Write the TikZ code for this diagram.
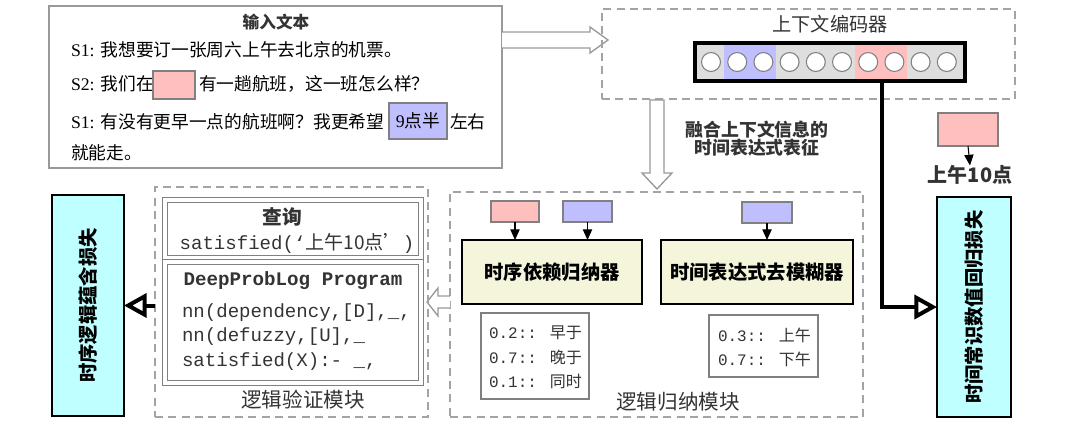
\documentclass[tikz,border=0pt]{standalone}
\usepackage{fontspec}
\setmainfont{Liberation Serif}
\newfontfamily\cjk{Noto Sans CJK SC}
\newfontfamily\mono{Liberation Mono}
\usetikzlibrary{fit,arrows.meta,calc}
\definecolor{pinkc}{HTML}{FFBFBF}
\definecolor{bluec}{HTML}{BFBFFF}
\definecolor{cyanc}{HTML}{BFFFFF}
\definecolor{beigec}{HTML}{F5F5DC}
\definecolor{barc}{HTML}{DEDEDE}
\definecolor{lgray}{HTML}{999999}
\definecolor{dgray}{HTML}{333333}
\newcommand\myfs[1]{\fontsize{#1}{#1}\selectfont}
\begin{document}
\begin{tikzpicture}[x=0.75pt,y=-0.75pt,
  every node/.style={inner sep=0,outer sep=0},
  solidbox/.style={draw=lgray,line width=1pt},
  dashbox/.style={draw=lgray!90,line width=1pt,dash pattern=on 6pt off 4pt},
  pinkbox/.style={draw=gray,fill=pinkc,line width=0.8pt},
  bluebox/.style={draw=gray,fill=bluec,line width=0.8pt},
  cyanbox/.style={draw=black,fill=cyanc,line width=0.8pt},
  beigebox/.style={draw=black,fill=beigec,line width=1pt},
  probbox/.style={draw=gray,line width=0.9pt},
  dblbox/.style={draw=gray,line width=0.8pt,double=white,double distance=2.5pt},
  hollow/.style={draw=lgray,fill=white,line width=1pt,line join=miter},
  smallarr/.style={line width=0.8pt,-{Triangle[length=8pt,width=7pt]}},
  bigarr/.style={line width=3pt,-{Triangle[open,length=17pt,width=18pt]}},
  txt/.style={font=\myfs{13.3}},
  modtitle/.style={font=\cjk\myfs{15.4},text=dgray},
  bluebold/.style={font=\cjk\bfseries\myfs{14.5}},
  monotxt/.style={font=\mono\myfs{14.3},text=dgray},
  probtxt/.style={font=\mono\myfs{12},text=dgray,anchor=west}
]
\useasboundingbox (0,0) rectangle (1080,433);

% ---------- input text ----------
\node[solidbox,fit={(49,6)(502,168)}] (input) {};
\node[font=\cjk\bfseries\myfs{12.5},text=dgray] (inTitle) at (276,22) {输入文本};
\node[txt,anchor=west] (l1) at (71,50) {S1: {\cjk 我想要订一张周六上午去北京的机票。}};
\node[txt,anchor=west] (l2a) at (71,84) {S2: {\cjk 我们在}};
\node[pinkbox,fit={(153,71)(195,99)}] (slot) {};
\node[txt,anchor=west] (l2b) at (199,84) {\cjk 有一趟航班，这一班怎么样？};
\node[txt,anchor=west] (l3a) at (71,122) {S1: {\cjk 有没有更早一点的航班啊？我更希望}};
\node[bluebox,fit={(389,103)(447,139)}] (nine) {};
\node[txt] at (nine.center) {9{\cjk 点半}};
\node[txt,anchor=west] (l3b) at (450,122) {\cjk 左右};
\node[txt,anchor=west] (l4) at (71,153) {\cjk 就能走。};

% hollow arrow input -> encoder
\draw[hollow] (502,32) -- (590,32) -- (590,27) -- (608,40) -- (590,53) -- (590,48) -- (502,48);

% ---------- encoder ----------
\node[dashbox,fit={(602,9)(1015,99)}] (enc) {};
\node[font=\cjk\myfs{14.4},text=dgray] (encTitle) at (830,24) {上下文编码器};
\node[fill=barc,fit={(695,43)(965,81)}] (bar) {};
\fill[bluec] (724,43) rectangle (776,81);
\fill[pinkc] (855,43) rectangle (907,81);
\foreach \i in {0,...,9}
  \draw[draw=gray,fill=white,line width=0.8pt] (711+26.2*\i,62) circle[radius=7.1pt];
\draw[line width=2.8pt] (bar.north west) rectangle (bar.south east);

% fusion arrow + text
\draw[hollow] (650,100) -- (664,100) -- (664,173) -- (672,173) -- (657,189) -- (642,173) -- (650,173) -- cycle;
\node[font=\cjk\bfseries\myfs{13.4},text=dgray,align=center] (fuse) at (757,139) {融合上下文信息的\\时间表达式表征};

% right pink + label
\node[pinkbox,fit={(938,113)(998,146)}] (pinkR) {};
\node[font=\cjk\bfseries\myfs{15},text=dgray] (am10) at (970,175) {上午10点};
\draw[smallarr] (pinkR.south) -- (am10.north);

% right loss
\node[cyanbox,fit={(937,197)(1011,417)}] (lossR) {};
\node[bluebold,rotate=90] at (lossR.center) {时间常识数值回归损失};
\coordinate (tap) at (882,81);
\draw[bigarr,line join=miter] (tap) |- (lossR.west);

% ---------- logic induction module ----------
\node[dashbox,fit={(450,192)(863,417)}] (logic) {};
\node[modtitle] (logicTitle) at (678,402) {逻辑归纳模块};
\node[pinkbox,fit={(491,201)(539,222)}] (p1) {};
\node[bluebox,fit={(563,201)(612,222)}] (b1) {};
\node[bluebox,fit={(742,202)(792,223)}] (b2) {};
\node[beigebox,fit={(462,240)(642,304)}] (dep) {};
\node[bluebold] at (dep.center) {时序依赖归纳器};
\node[beigebox,fit={(661,240)(853,304)}] (defz) {};
\node[bluebold] at (defz.center) {时间表达式去模糊器};
\draw[smallarr] (p1.south) -- (p1.south |- dep.north);
\draw[smallarr] (b1.south) -- (b1.south |- dep.north);
\draw[smallarr] (b2.south) -- (b2.south |- defz.north);
\node[probbox,fit={(481,313)(589,399)}] (pr1) {};
\node[probtxt] at (489,333) {0.2:: {\cjk 早于}};
\node[probtxt] at (489,357) {0.7:: {\cjk 晚于}};
\node[probtxt] at (489,381) {0.1:: {\cjk 同时}};
\node[probbox,fit={(709,315)(818,377)}] (pr2) {};
\node[probtxt] at (718,335) {0.3:: {\cjk 上午}};
\node[probtxt] at (718,359) {0.7:: {\cjk 下午}};

% hollow arrow logic -> verification
\draw[hollow] (450,296) -- (438,296) -- (438,288) -- (427,302) -- (438,316) -- (438,308) -- (450,308);

% ---------- verification module ----------
\node[dashbox,fit={(155,187)(428,417)}] (verif) {};
\node[modtitle] (verifTitle) at (303,400) {逻辑验证模块};
\node[dblbox,fit={(165,200)(421,258)}] (query) {};
\node[font=\cjk\bfseries\myfs{14.8},text=dgray] at (282,217) {查询};
\node[monotxt] at (297,243) {satisfied(‘{\cjk 上午10点’})};
\node[dblbox,fit={(165,262)(421,383)}] (prog) {};
\node[monotxt,font=\mono\bfseries\myfs{14.4}] at (293,281) {DeepProbLog Program};
\node[monotxt,anchor=west] at (182,313) {nn(dependency,[D],\_,};
\node[monotxt,anchor=west] at (182,337) {nn(defuzzy,[U],\_};
\node[monotxt,anchor=west] at (182,362) {satisfied(X):- \_,};

% left loss
\node[cyanbox,fit={(52,195)(124,416)}] (lossL) {};
\node[bluebold,rotate=90] at (lossL.center) {时序逻辑蕴含损失};
\draw[bigarr] (verif.west |- lossL.east) -- (lossL.east);
\end{tikzpicture}
\end{document}
